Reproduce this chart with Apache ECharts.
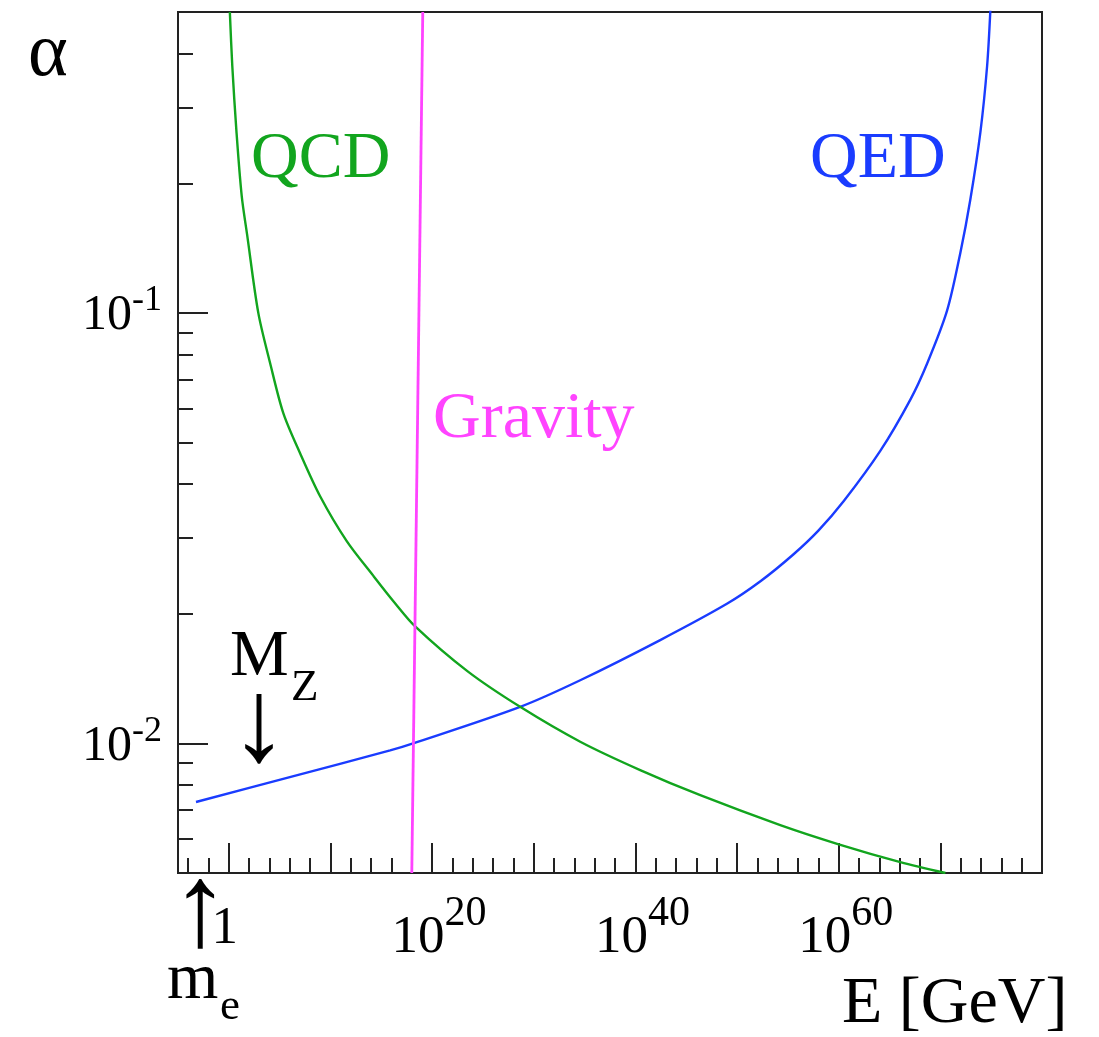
<!DOCTYPE html>
<html><head><meta charset="utf-8">
<script src="https://cdn.jsdelivr.net/npm/echarts@6/dist/echarts.min.js"></script>
<style>html,body{margin:0;padding:0;background:#fff}#c{width:1099px;height:1037px}</style>
</head><body><div id="c"></div><script>
// x values are log10(E / GeV), y values are the coupling alpha
const qedLogE  = [-3.23, 6.0, 15.87, 18.13, 28.66, 34.57, 42.44, 49.0, 52.3, 55.56, 58.0, 60.48, 64.09, 67.05, 68.69, 70.66, 71.97, 72.95, 73.94, 74.6, 74.92];
const qedAlpha = [0.00731, 0.00835, 0.00963, 0.0100, 0.01216, 0.01402, 0.01738, 0.0211, 0.0238, 0.0275, 0.0312, 0.0365, 0.0478, 0.0629, 0.0762, 0.1012, 0.138, 0.1834, 0.263, 0.3746, 0.505];
const qcdLogE  = [0.1, 0.34, 0.76, 1.27, 1.8, 2.90, 4.06, 5.36, 7.01, 8.98, 11.6, 14.22, 16.19, 18.33, 23.5, 28.66, 34.57, 40.47, 46.38, 54.25, 60.0, 66.06, 70.5];
const qcdAlpha = [0.5, 0.375, 0.262, 0.1867, 0.152, 0.1, 0.0765, 0.0585, 0.0472, 0.0375, 0.0295, 0.0245, 0.0214, 0.0187, 0.0147, 0.01216, 0.01009, 0.00867, 0.00758, 0.00646, 0.00583, 0.0053, 0.005];
const gravLogE  = [18.0, 19.08];
const gravAlpha = [0.005, 0.5];

const xRange = [-5, 80];
const yRange = [0.005, 0.5];
const xMinorTicks = [-4,-2,0,2,4,6,8,10,12,14,16,18,20,22,24,26,28,30,32,34,36,38,40,42,44,46,48,50,52,54,56,58,60,62,64,66,68,70,72,74,76,78];
const xMajorTicks = [0,10,20,30,40,50,60,70];
const xLabelTicks = [0,20,40,60];
const yMinorTicks = [0.006,0.007,0.008,0.009,0.02,0.03,0.04,0.05,0.06,0.07,0.08,0.09,0.2,0.3,0.4];
const yMajorTicks = [0.01, 0.1];

const FONT = 'Liberation Serif';
const GREEN = '#12a51e', BLUE = '#1a3cff', PINK = '#ff44ff';
const zip = (a, b) => a.map((v, i) => [v, b[i]]);
const yLogRange = yRange.map(Math.log10);

function txt(str, x, base, fs, color) {
  return { type: 'text', x: x, y: base - 0.3375 * fs, silent: true,
    style: { text: str, fontSize: fs, fontFamily: FONT, fill: color || '#000',
             align: 'left', verticalAlign: 'middle' } };
}

const axisLineStyle = { color: '#222', width: 2 };
const chart = echarts.init(document.getElementById('c'));
chart.setOption({
  animation: false,
  backgroundColor: '#fff',
  grid: { left: 178, top: 12, right: 57, bottom: 164, show: true, borderColor: '#222', borderWidth: 2,
          containLabel: false, outerBoundsMode: 'none' },
  xAxis: [
    { type: 'value', min: xRange[0], max: xRange[1], position: 'bottom',
      axisLine: { show: true, onZero: false, lineStyle: axisLineStyle },
      axisTick: { show: true, inside: true, length: 15, customValues: xMinorTicks, lineStyle: axisLineStyle },
      axisLabel: { show: false }, splitLine: { show: false } },
    { type: 'value', min: xRange[0], max: xRange[1], position: 'bottom',
      axisLine: { show: false, onZero: false },
      axisTick: { show: true, inside: true, length: 30, customValues: xMajorTicks, lineStyle: axisLineStyle },
      axisLabel: { show: true, customValues: xLabelTicks, margin: 20,
        formatter: v => v === 0 ? '{one|1}' : '{a|10}{s|' + v + '}',
        rich: {
          a: { fontFamily: FONT, fontSize: 53, color: '#000', lineHeight: 72, verticalAlign: 'bottom', padding: [0, 0, 0, 14] },
          s: { fontFamily: FONT, fontSize: 42, color: '#000', lineHeight: 26, verticalAlign: 'top' },
          one: { fontFamily: FONT, fontSize: 53, color: '#000', lineHeight: 72, padding: [0, 8, 0, 0] }
        } },
      splitLine: { show: false } }
  ],
  yAxis: [
    { type: 'log', logBase: 10, min: yRange[0], max: yRange[1], show: false },
    { type: 'value', min: yLogRange[0], max: yLogRange[1], position: 'left',
      axisLine: { show: true, onZero: false, lineStyle: axisLineStyle },
      axisTick: { show: true, inside: true, length: 15, customValues: yMinorTicks.map(Math.log10), lineStyle: axisLineStyle },
      axisLabel: { show: false }, splitLine: { show: false } },
    { type: 'value', min: yLogRange[0], max: yLogRange[1], position: 'left',
      axisLine: { show: false, onZero: false },
      axisTick: { show: true, inside: true, length: 30, customValues: yMajorTicks.map(Math.log10), lineStyle: axisLineStyle },
      axisLabel: { show: true, customValues: yMajorTicks.map(Math.log10), margin: 16,
        formatter: v => '{a|10}{s|' + Math.round(v) + '}',
        rich: {
          a: { fontFamily: FONT, fontSize: 50, color: '#000', lineHeight: 60, padding: [6, 0, 0, 0] },
          s: { fontFamily: FONT, fontSize: 36, color: '#000', lineHeight: 25, verticalAlign: 'top' }
        } },
      splitLine: { show: false } }
  ],
  series: [
    { name: 'QED', type: 'line', xAxisIndex: 0, yAxisIndex: 0, data: zip(qedLogE, qedAlpha),
      showSymbol: false, smooth: 0.3, lineStyle: { color: BLUE, width: 2.4 }, clip: true },
    { name: 'QCD', type: 'line', xAxisIndex: 0, yAxisIndex: 0, data: zip(qcdLogE, qcdAlpha),
      showSymbol: false, smooth: 0.3, lineStyle: { color: GREEN, width: 2.4 }, clip: true },
    { name: 'Gravity', type: 'line', xAxisIndex: 0, yAxisIndex: 0, data: zip(gravLogE, gravAlpha),
      showSymbol: false, smooth: false, lineStyle: { color: PINK, width: 2.8 }, clip: true }
  ],
  graphic: [
    txt('\u03b1', 28, 81, 76),
    txt('QCD', 251, 181.7, 66, GREEN),
    txt('QED', 810, 181.7, 66, BLUE),
    txt('Gravity', 433, 441.7, 66, PINK),
    txt('M', 230, 680, 66),
    txt('Z', 291, 703.3, 45),
    txt('\u2193', 229.6, 768.6, 118),
    txt('\u2191', 170.7, 954, 118),
    txt('m', 167, 1003.3, 66),
    txt('e', 220, 1022, 45),
    txt('E [GeV]', 842, 1026.7, 66)
  ]
});
</script></body></html>
